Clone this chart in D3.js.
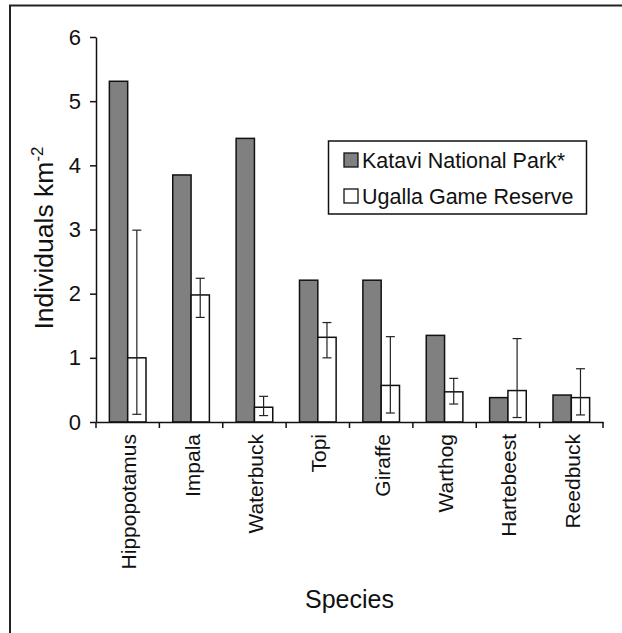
<!DOCTYPE html>
<html lang="en">

<head>
    <meta charset="UTF-8">
    <title>Species density</title>
    <script src="https://d3js.org/d3.v7.min.js"></script>
    <style>
        body { margin: 0; background: #fff; }
        text { font-family: "Liberation Sans", Arial, sans-serif; fill: #111; }
    </style>
</head>

<body>
    <script>
        const species = ["Hippopotamus", "Impala", "Waterbuck", "Topi", "Giraffe", "Warthog", "Hartebeest", "Reedbuck"];
        const seriesNames = ["Katavi National Park*", "Ugalla Game Reserve"];
        const katavi = [5.31, 3.85, 4.42, 2.21, 2.21, 1.35, 0.38, 0.42];
        const ugalla = [1.0, 1.98, 0.23, 1.32, 0.57, 0.47, 0.49, 0.38];
        const ugallaLow = [0.12, 1.63, 0.10, 1.0, 0.14, 0.28, 0.07, 0.11];
        const ugallaHigh = [2.99, 2.24, 0.40, 1.55, 1.33, 0.68, 1.30, 0.83];
        const yTicks = [0, 1, 2, 3, 4, 5, 6];

        const width = 622, height = 633;

        const svg = d3.select("body")
            .append("svg")
            .attr("width", width)
            .attr("height", height);

        // frame (only top and left edges are visible in the original)
        svg.append("line").attr("x1", 9).attr("x2", width).attr("y1", 5.5).attr("y2", 5.5)
            .attr("stroke", "#222").attr("stroke-width", 2);
        svg.append("line").attr("x1", 10).attr("x2", 10).attr("y1", 5).attr("y2", height)
            .attr("stroke", "#222").attr("stroke-width", 2);

        const x = d3.scaleBand()
            .domain(species)
            .range([96, 603]);

        const xs = d3.scaleBand()
            .domain(seriesNames)
            .range([0, x.bandwidth()])
            .paddingOuter(0.73);

        const y = d3.scaleLinear()
            .domain([0, 6])
            .range([422, 37]);

        const rows = species.map((s, i) => ({
            name: s, katavi: katavi[i], ugalla: ugalla[i], lo: ugallaLow[i], hi: ugallaHigh[i]
        }));

        // bars
        const g = svg.append("g");
        g.selectAll("rect.k")
            .data(rows)
            .enter()
            .append("rect")
            .attr("class", "k")
            .attr("x", d => x(d.name) + xs(seriesNames[0]))
            .attr("y", d => y(d.katavi))
            .attr("width", xs.bandwidth())
            .attr("height", d => y(0) - y(d.katavi))
            .attr("fill", "#808080")
            .attr("stroke", "#111")
            .attr("stroke-width", 1.5);

        g.selectAll("rect.u")
            .data(rows)
            .enter()
            .append("rect")
            .attr("class", "u")
            .attr("x", d => x(d.name) + xs(seriesNames[1]))
            .attr("y", d => y(d.ugalla))
            .attr("width", xs.bandwidth())
            .attr("height", d => y(0) - y(d.ugalla))
            .attr("fill", "#fff")
            .attr("stroke", "#111")
            .attr("stroke-width", 1.5);

        // error bars
        const cx = d => x(d.name) + xs(seriesNames[1]) + xs.bandwidth() / 2;
        const err = g.selectAll("g.err")
            .data(rows)
            .enter()
            .append("g")
            .attr("class", "err")
            .attr("stroke", "#222")
            .attr("stroke-width", 1.2);
        err.append("line")
            .attr("x1", cx).attr("x2", cx)
            .attr("y1", d => y(d.lo)).attr("y2", d => y(d.hi));
        err.append("line")
            .attr("x1", d => cx(d) - 4.5).attr("x2", d => cx(d) + 4.5)
            .attr("y1", d => y(d.hi)).attr("y2", d => y(d.hi));
        err.append("line")
            .attr("x1", d => cx(d) - 4.5).attr("x2", d => cx(d) + 4.5)
            .attr("y1", d => y(d.lo)).attr("y2", d => y(d.lo));

        // y axis
        const yAxis = svg.append("g")
            .attr("transform", "translate(96,0)")
            .call(d3.axisLeft(y).tickValues(yTicks).tickFormat(d3.format("d"))
                .tickSize(6).tickPadding(9).tickSizeOuter(0));
        yAxis.select(".domain").attr("stroke", "#111").attr("stroke-width", 1.5);
        yAxis.selectAll(".tick line").attr("stroke", "#111").attr("stroke-width", 1.5);
        yAxis.selectAll(".tick text")
            .attr("font-size", 22)
            .style("font-size", "22px")
            .attr("fill", "#111");

        // x axis: ticks at category boundaries
        const xAxis = svg.append("g")
            .attr("transform", `translate(0,${y(0)})`)
            .call(d3.axisBottom(x).tickSize(0).tickFormat(""));
        xAxis.select(".domain").attr("stroke", "#111").attr("stroke-width", 1.5);
        const bounds = species.map(s => x(s)).concat(x.range()[1]);
        xAxis.selectAll("line.bound")
            .data(bounds)
            .enter()
            .append("line")
            .attr("class", "bound")
            .attr("x1", d => d).attr("x2", d => d)
            .attr("y1", 0).attr("y2", 6)
            .attr("stroke", "#111")
            .attr("stroke-width", 1.5);

        svg.selectAll("text.cat")
            .data(species)
            .enter()
            .append("text")
            .attr("class", "cat")
            .attr("transform", d => `translate(${x(d) + x.bandwidth() / 2 + 1},434) rotate(-90)`)
            .attr("text-anchor", "end")
            .attr("dominant-baseline", "central")
            .style("font-size", "21px")
            .text(d => d);

        // axis titles
        svg.append("text")
            .attr("x", 349.5)
            .attr("y", 608)
            .attr("text-anchor", "middle")
            .style("font-size", "25px")
            .text("Species");

        const yt = svg.append("text")
            .attr("transform", "translate(53,238) rotate(-90)")
            .attr("text-anchor", "middle")
            .style("font-size", "26.5px");
        yt.append("tspan").text("Individuals km");
        yt.append("tspan").attr("dy", -10).style("font-size", "17px").text("-2");

        // legend
        const lg = svg.append("g");
        lg.append("rect")
            .attr("x", 328.5).attr("y", 141)
            .attr("width", 258).attr("height", 73)
            .attr("fill", "#fff")
            .attr("stroke", "#111")
            .attr("stroke-width", 1.5);
        const fills = ["#808080", "#fff"];
        const item = lg.selectAll("g.item")
            .data(seriesNames)
            .enter()
            .append("g")
            .attr("transform", (d, i) => `translate(344,${153 + i * 36})`);
        item.append("rect")
            .attr("width", 14).attr("height", 14)
            .attr("fill", (d, i) => fills[i])
            .attr("stroke", "#111")
            .attr("stroke-width", 1.3);
        item.append("text")
            .attr("x", 18)
            .attr("y", 14.5)
            .style("font-size", "21.5px")
            .text(d => d);
    </script>
</body>

</html>
